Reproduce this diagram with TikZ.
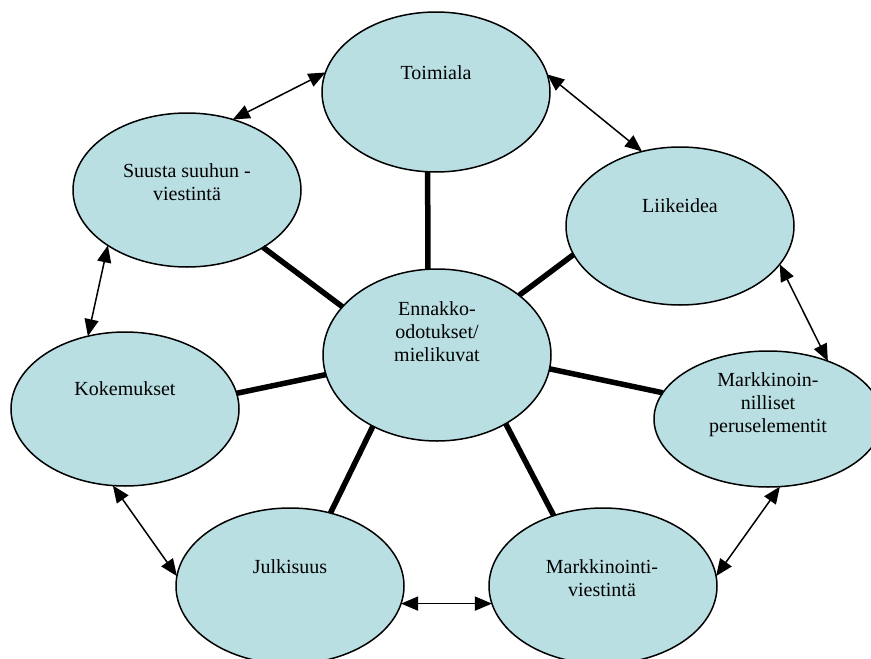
\documentclass[tikz,border=0pt]{standalone}
\usepackage{fontspec}
\setmainfont{Liberation Serif}
\usetikzlibrary{shapes.geometric,arrows.meta}
\definecolor{bubblefill}{RGB}{185,223,227}
\begin{document}
\begin{tikzpicture}[x=1pt,y=-1pt,
  bubble/.style={ellipse, draw=black, line width=1.5pt, fill=bubblefill,
    inner sep=0pt, outer sep=0pt, minimum width=228pt},
  caption/.style={font=\fontsize{20}{23}\selectfont, align=center, inner sep=0pt},
  spoke/.style={line width=5.5pt},
  tip/.tip={Triangle[length=17pt,width=14pt]},
  link/.style={line width=1.5pt, tip-tip}
]
\useasboundingbox (0,0) rectangle (871,659);
\clip (0,0) rectangle (871,659);

% ellipses
\node[bubble, minimum height=160pt] (toim) at (436,92) {};
\node[bubble, minimum height=154pt] (suus) at (187,190) {};
\node[bubble, minimum height=158pt] (liik) at (680,226) {};
\node[bubble, minimum height=172pt] (cen)  at (437,355) {};
\node[bubble, minimum height=154pt] (koke) at (125,409) {};
\node[bubble, minimum height=136pt] (mark) at (768,419) {};
\node[bubble, minimum height=156pt] (julk) at (290,586) {};
\node[bubble, minimum height=156pt] (mvie) at (603,586) {};

% captions
\node[caption] (toimT) at (436,73)  {Toimiala};
\node[caption] (suusT) at (187,182) {Suusta suuhun -\\viestintä};
\node[caption] (liikT) at (680,206) {Liikeidea};
\node[caption] (cenT)  at (437,332) {Ennakko-\\odotukset/\\mielikuvat};
\node[caption] (kokeT) at (125,389) {Kokemukset};
\node[caption] (markT) at (768,405) {Markkinoin-\\nilliset\\peruselementit};
\node[caption] (julkT) at (290,567) {Julkisuus};
\node[caption] (mvieT) at (602,578) {Markkinointi-\\viestintä};

% spokes to the centre
\draw[spoke] (toim.264) -- (cen.96);
\draw[spoke] (suus.323) -- (cen.153);
\draw[spoke] (liik.195) -- (cen.36);
\draw[spoke] (koke.8)   -- (cen.190);
\draw[spoke] (mark.166) -- (cen.353);
\draw[spoke] (julk.61)  -- (cen.228);
\draw[spoke] (mvie.125) -- (cen.315);

% links around the ring
\draw[link] (toim.170) -- (suus.57);
\draw[link] (toim.9)   -- (liik.117);
\draw[link] (liik.339) -- (mark.44);
\draw[link] (suus.215) -- (koke.117);
\draw[link] (koke.261) -- (julk.175);
\draw[link] (julk.351) -- (mvie.189);
\draw[link] (mark.280) -- (mvie.5);
\end{tikzpicture}
\end{document}
